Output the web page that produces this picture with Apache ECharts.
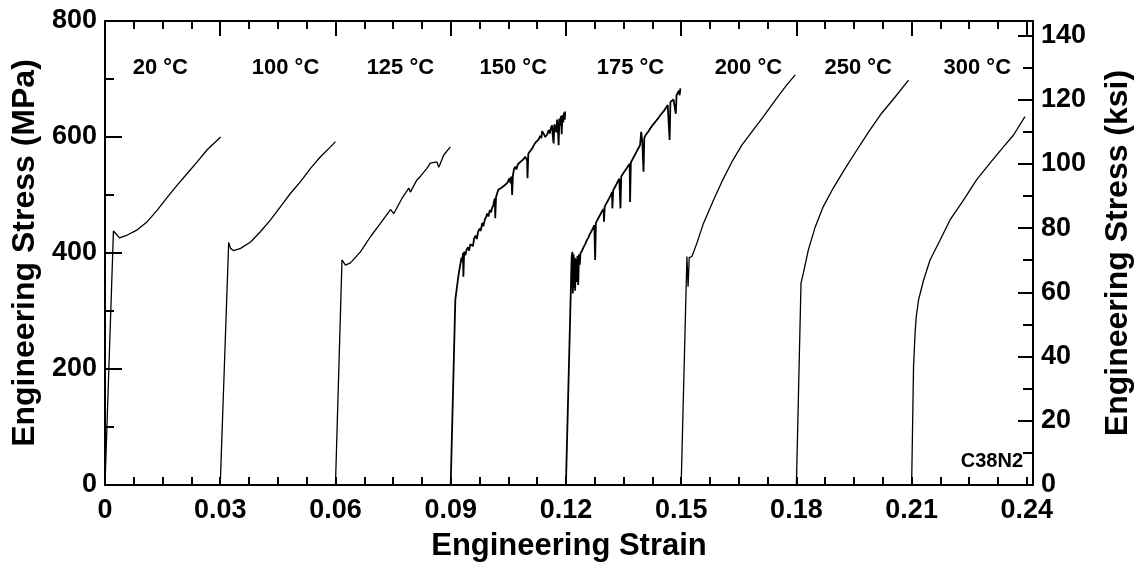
<!DOCTYPE html>
<html>
<head>
<meta charset="utf-8">
<script src="https://cdn.jsdelivr.net/npm/echarts@6/dist/echarts.min.js"></script>
<style>
html,body{margin:0;padding:0;background:#fff;}
#chart{width:1135px;height:565px;}
</style>
</head>
<body>
<div id="chart"></div>
<script>
// ---- data (strain, stress MPa) ----
const strain20  = [0, 0.0022, 0.0038, 0.0058, 0.0084, 0.0110, 0.0136, 0.0162, 0.0188, 0.0214, 0.0240, 0.0266, 0.0301];
const stress20  = [0, 438, 426, 431, 440, 454, 474, 496, 517, 537, 557, 578, 600];

const strain100 = [0.0300, 0.0322, 0.0327, 0.0335, 0.0353, 0.0379, 0.0405, 0.0431, 0.0457, 0.0483, 0.0509, 0.0535, 0.0561, 0.0587, 0.0600];
const stress100 = [0, 418, 408, 404, 408, 419, 437, 457, 480, 503, 523, 546, 566, 583, 592];

const strain125 = [0.0600, 0.0617, 0.0626, 0.0639, 0.0665, 0.0691, 0.0717, 0.0739, 0.0743, 0.0752, 0.0773, 0.0791, 0.0795, 0.0812, 0.0821, 0.0838, 0.0847, 0.0864, 0.0869, 0.0882, 0.0899];
const stress125 = [0, 388, 379, 383, 402, 428, 451, 471, 475, 468, 494, 512, 505, 526, 532, 546, 555, 557, 548, 569, 583];

const strain150 = [0.0900, 0.0912, 0.0918, 0.0921, 0.0925, 0.0928, 0.0930, 0.0932, 0.0933, 0.0935, 0.0938, 0.0941, 0.0945, 0.0948, 0.0951, 0.0955, 0.0958, 0.0961, 0.0965, 0.0968, 0.0971, 0.0975, 0.0978, 0.0982, 0.0985, 0.0989, 0.0992, 0.0995, 0.0998, 0.1002, 0.1005, 0.1008, 0.1011, 0.1013, 0.1015, 0.1016, 0.1018, 0.1021, 0.1024, 0.1027, 0.1031, 0.1035, 0.1039, 0.1042, 0.1046, 0.1050, 0.1053, 0.1056, 0.1058, 0.1060, 0.1062, 0.1065, 0.1068, 0.1071, 0.1075, 0.1079, 0.1083, 0.1086, 0.1090, 0.1094, 0.1097, 0.1099, 0.1100, 0.1102, 0.1106, 0.1109, 0.1112, 0.1116, 0.1120, 0.1124, 0.1129, 0.1133, 0.1136, 0.1138, 0.1142, 0.1146, 0.1151, 0.1155, 0.1158, 0.1161, 0.1164, 0.1166, 0.1168, 0.1170, 0.1173, 0.1175, 0.1177, 0.1179, 0.1181, 0.1183, 0.1185, 0.1187, 0.1189, 0.1191, 0.1193, 0.1195, 0.1197, 0.1198];
const stress150 = [0, 319, 350, 365, 380, 392, 385, 400, 359, 402, 396, 405, 410, 404, 415, 418, 412, 425, 430, 424, 436, 442, 438, 452, 446, 458, 462, 468, 463, 474, 470, 478, 482, 490, 494, 460, 496, 503, 509, 506, 512, 510, 516, 514, 520, 524, 529, 520, 532, 500, 534, 545, 549, 544, 553, 550, 558, 555, 562, 566, 569, 560, 529, 571, 575, 572, 580, 585, 590, 587, 596, 602, 598, 610, 606, 600, 604, 612, 606, 616, 620, 600, 589, 622, 625, 608, 630, 615, 586, 632, 620, 636, 605, 638, 625, 642, 630, 644];

const strain175 = [0.1200, 0.1215, 0.1217, 0.1218, 0.1220, 0.1221, 0.1223, 0.1224, 0.1226, 0.1228, 0.1230, 0.1232, 0.1234, 0.1236, 0.1238, 0.1242, 0.1246, 0.1250, 0.1253, 0.1258, 0.1262, 0.1266, 0.1270, 0.1274, 0.1276, 0.1278, 0.1282, 0.1286, 0.1290, 0.1294, 0.1298, 0.1299, 0.1301, 0.1305, 0.1309, 0.1313, 0.1317, 0.1320, 0.1321, 0.1323, 0.1327, 0.1331, 0.1335, 0.1339, 0.1341, 0.1342, 0.1344, 0.1348, 0.1352, 0.1356, 0.1360, 0.1364, 0.1366, 0.1367, 0.1369, 0.1373, 0.1377, 0.1381, 0.1385, 0.1389, 0.1393, 0.1396, 0.1399, 0.1402, 0.1404, 0.1407, 0.1411, 0.1415, 0.1420, 0.1425, 0.1430, 0.1435, 0.1440, 0.1445, 0.1450, 0.1455, 0.1460, 0.1465, 0.1468, 0.1470, 0.1472, 0.1476, 0.1480, 0.1485, 0.1486, 0.1488, 0.1491, 0.1494, 0.1496, 0.1498];
const stress175 = [0, 395, 402, 330, 398, 340, 392, 335, 390, 350, 395, 345, 398, 380, 400, 404, 410, 415, 420, 426, 432, 437, 442, 448, 388, 452, 457, 462, 467, 472, 476, 454, 480, 485, 490, 495, 500, 505, 477, 508, 513, 518, 523, 528, 530, 477, 532, 536, 540, 544, 548, 551, 554, 488, 556, 561, 566, 571, 576, 581, 586, 609, 590, 540, 598, 603, 606, 610, 615, 620, 624, 628, 632, 637, 641, 645, 650, 655, 658, 595, 660, 663, 665, 668, 640, 672, 676, 680, 672, 684];

const strain200 = [0.1500, 0.1515, 0.1518, 0.1521, 0.1528, 0.1541, 0.1558, 0.1584, 0.1606, 0.1632, 0.1658, 0.1684, 0.1714, 0.1749, 0.1775, 0.1797];
const stress200 = [0, 394, 342, 392, 394, 417, 451, 491, 523, 557, 586, 609, 635, 667, 690, 707];

const strain250 = [0.1800, 0.1812, 0.1818, 0.1831, 0.1849, 0.1870, 0.1896, 0.1927, 0.1958, 0.1988, 0.2022, 0.2057, 0.2092];
const stress250 = [0, 348, 365, 405, 445, 480, 512, 546, 578, 609, 641, 669, 698];

const strain300 = [0.2100, 0.2105, 0.2109, 0.2112, 0.2118, 0.2131, 0.2148, 0.2174, 0.2200, 0.2235, 0.2269, 0.2304, 0.2339, 0.2365, 0.2395];
const stress300 = [0, 204, 262, 290, 319, 353, 388, 422, 457, 491, 526, 555, 583, 603, 635];

const tempLabels  = ['20 °C', '100 °C', '125 °C', '150 °C', '175 °C', '200 °C', '250 °C', '300 °C'];
const tempLabelX  = [0.0144, 0.0470, 0.0769, 0.1063, 0.1368, 0.1675, 0.1961, 0.2271];
const tempLabelY  = 719;

const specimen = 'C38N2';
const specimenPos = [0.2390, 41];
const xTicks = [0, 0.03, 0.06, 0.09, 0.12, 0.15, 0.18, 0.21, 0.24];
const yTicksMPa = [0, 200, 400, 600, 800];
const yTicksKsi = [0, 20, 40, 60, 80, 100, 120, 140];

// ---- chart ----
const FONT = "'Liberation Sans', Arial, sans-serif";
const XMAX = 0.2416, KSIMAX = 144.5;
const curves = [
  [strain20, stress20], [strain100, stress100], [strain125, stress125], [strain150, stress150],
  [strain175, stress175], [strain200, stress200], [strain250, stress250], [strain300, stress300]
];
const lineSeries = curves.map(([xs, ys], i) => ({
  type: 'line',
  name: tempLabels[i],
  xAxisIndex: 0, yAxisIndex: 0,
  data: xs.map((x, k) => [x, ys[k]]),
  showSymbol: false,
  symbol: 'none',
  lineStyle: { color: '#000', width: (i === 3 || i === 4) ? 1.8 : 1.3 },
  silent: true,
  animation: false
}));

const txt = { color: '#000', fontFamily: FONT, fontWeight: 'bold' };
const blk = w => ({ color: '#000', width: w });
const pick = (list, v) => list.find(a => Math.abs(a - v) < 1e-6);

function tickAxis(pos, min, max, interval, len, showLine) {
  return {
    type: 'value', min, max, interval, position: pos,
    axisLine: { show: !!showLine, onZero: false, lineStyle: blk(2) },
    axisTick: { show: true, inside: true, length: len, lineStyle: blk(2) },
    axisLabel: { show: false },
    splitLine: { show: false }
  };
}

const labelSeries = (data, align, size) => ({
  type: 'scatter',
  xAxisIndex: 0, yAxisIndex: 0,
  symbolSize: 0,
  silent: true,
  itemStyle: { color: '#000', opacity: 1 },
  data,
  label: {
    show: true, position: [0, 0], align, verticalAlign: 'middle',
    formatter: p => p.name, textBorderWidth: 0, opacity: 1,
    fontSize: size, color: '#000', fontFamily: FONT, fontWeight: 'bold'
  }
});

const option = {
  animation: false,
  backgroundColor: '#fff',
  grid: { left: 105, right: 102, top: 21, bottom: 80, containLabel: false, outerBoundsMode: 'none' },
  xAxis: [
    {
      type: 'value', min: 0, max: XMAX, interval: 0.03, position: 'bottom',
      name: 'Engineering Strain', nameLocation: 'middle', nameGap: 46,
      nameTextStyle: Object.assign({ fontSize: 31 }, txt),
      axisLine: { show: true, onZero: false, lineStyle: blk(2) },
      axisTick: { show: true, inside: true, length: 8, lineStyle: blk(2) },
      axisLabel: Object.assign({
        fontSize: 27, margin: 12, showMaxLabel: false,
        formatter: v => { const t = pick(xTicks, v); return t === undefined ? '' : (t === 0 ? '0' : t.toFixed(2)); }
      }, txt),
      splitLine: { show: false }
    },
    tickAxis('bottom', 0, XMAX, 0.0075, 8, false),
    tickAxis('top', 0, XMAX, 0.03, 15, true),
    tickAxis('top', 0, XMAX, 0.0075, 8, false)
  ],
  yAxis: [
    {
      type: 'value', min: 0, max: 800, interval: 200, position: 'left',
      name: 'Engineering Stress (MPa)', nameLocation: 'middle', nameGap: 58, nameRotate: 90,
      nameTextStyle: Object.assign({ fontSize: 32 }, txt),
      axisLine: { show: true, onZero: false, lineStyle: blk(2) },
      axisTick: { show: true, inside: true, length: 17, lineStyle: blk(2) },
      axisLabel: Object.assign({ fontSize: 27, margin: 8,
        formatter: v => { const t = pick(yTicksMPa, v); return t === undefined ? '' : String(t); } }, txt),
      splitLine: { show: false }
    },
    {
      type: 'value', min: 0, max: KSIMAX, interval: 20, position: 'right',
      name: 'Engineering Stress (ksi)', nameLocation: 'middle', nameGap: 69, nameRotate: 90,
      nameTextStyle: Object.assign({ fontSize: 32 }, txt),
      axisLine: { show: true, onZero: false, lineStyle: blk(2) },
      axisTick: { show: true, inside: true, length: 15, lineStyle: blk(2) },
      axisLabel: Object.assign({ fontSize: 27, margin: 8, showMaxLabel: false,
        formatter: v => { const t = pick(yTicksKsi, v); return t === undefined ? '' : String(t); } }, txt),
      splitLine: { show: false }
    },
    tickAxis('left', 0, 800, 100, 9, false),
    tickAxis('right', 0, KSIMAX, 10, 10, false)
  ],
  series: lineSeries.concat([
    labelSeries(tempLabels.map((t, i) => ({ value: [tempLabelX[i], tempLabelY], name: t })), 'center', 22),
    labelSeries([{ value: specimenPos, name: specimen }], 'right', 20)
  ])
};

const chart = echarts.init(document.getElementById('chart'), null, { renderer: 'canvas' });
chart.setOption(option);
</script>
</body>
</html>
